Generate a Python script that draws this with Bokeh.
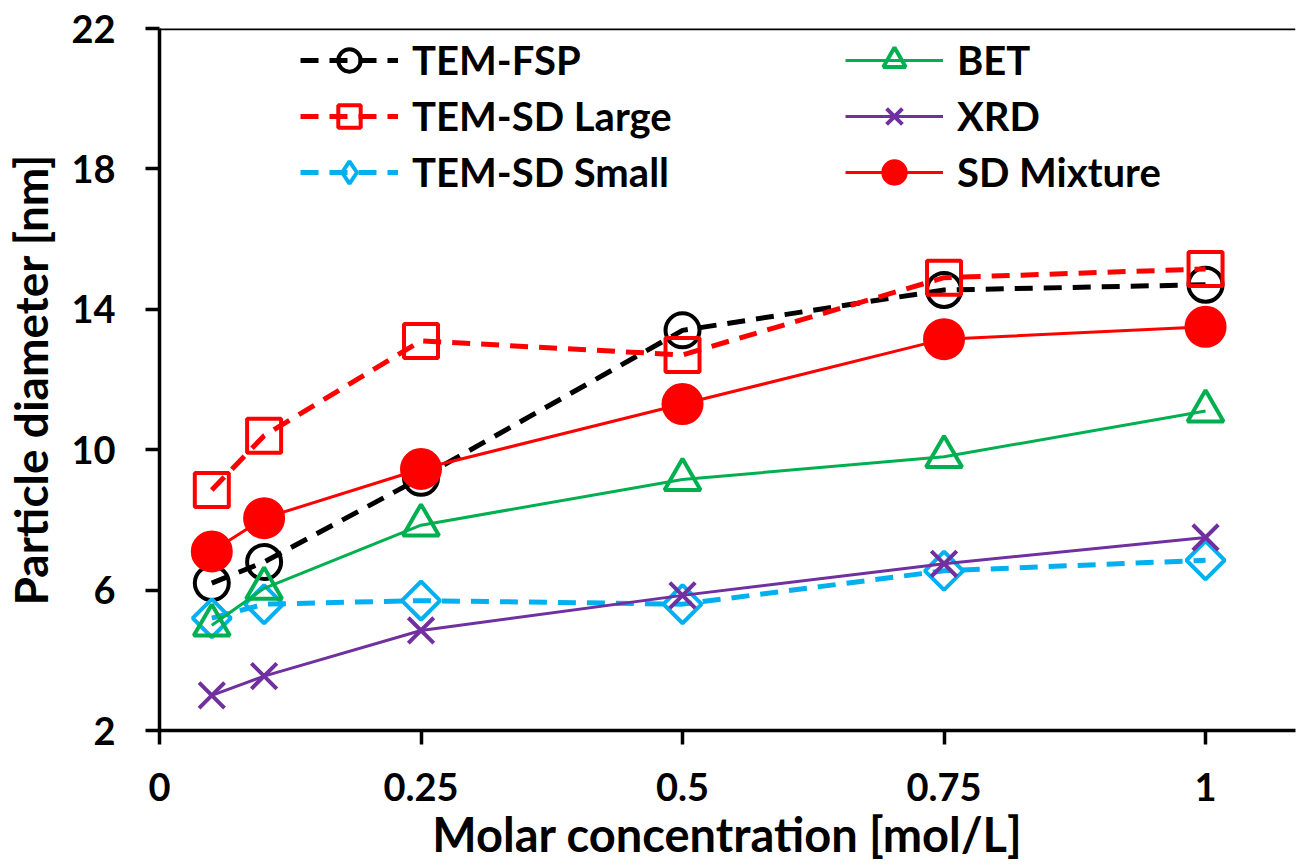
import math
from bokeh.plotting import figure
from bokeh.models import Range1d, FixedTicker, Span, Legend, LegendItem
from bokeh.embed import file_html
from bokeh.resources import INLINE

# ---- data ----
conc = [0.05, 0.1, 0.25, 0.5, 0.75, 1.0]
tem_fsp = [6.2, 6.8, 9.2, 13.4, 14.55, 14.7]
tem_sd_large = [8.85, 10.4, 13.1, 12.7, 14.9, 15.15]
tem_sd_small = [5.2, 5.6, 5.7, 5.6, 6.55, 6.85]
bet = [5.0, 6.05, 7.85, 9.15, 9.8, 11.1]
xrd = [3.0, 3.55, 4.85, 5.85, 6.75, 7.5]
sd_mixture = [7.1, 8.05, 9.45, 11.3, 13.15, 13.5]

x_ticks = [0, 0.25, 0.5, 0.75, 1]
x_tick_labels = ["0", "0.25", "0.5", "0.75", "1"]
y_ticks = [2, 6, 10, 14, 18, 22]

FONT = "Lato"

p = figure(width=1300, height=864, output_backend="svg", toolbar_location=None,
           x_range=Range1d(0, 1.086), y_range=Range1d(2, 22),
           min_border_left=157, min_border_right=5, min_border_top=28,
           min_border_bottom=134, background_fill_color="white",
           border_fill_color="white")
p.outline_line_color = None
p.xgrid.grid_line_color = None
p.ygrid.grid_line_color = None

for ax in (p.xaxis[0], p.yaxis[0]):
    ax.axis_line_width = 3.5
    ax.axis_line_color = "black"
    ax.major_tick_line_width = 3.5
    ax.major_tick_out = 14
    ax.major_tick_in = 0
    ax.minor_tick_line_color = None
    ax.major_label_text_font = FONT
    ax.major_label_text_font_style = "bold"
    ax.major_label_text_font_size = "38px"
    ax.major_label_text_color = "black"
    ax.axis_label_text_font = FONT
    ax.axis_label_text_font_style = "bold"
    ax.axis_label_text_color = "black"

p.xaxis.axis_label_text_font_size = "47px"
p.yaxis.axis_label_text_font_size = "46px"
p.xaxis.ticker = FixedTicker(ticks=x_ticks)
p.xaxis.major_label_overrides = {t: l for t, l in zip(x_ticks, x_tick_labels)}
p.yaxis.ticker = FixedTicker(ticks=y_ticks)
p.xaxis.axis_label = "Molar concentration [mol/L]"
p.yaxis.axis_label = "Particle diameter [nm]"
p.xaxis.major_label_standoff = 28
p.yaxis.major_label_standoff = 30
p.xaxis.axis_label_standoff = 2
p.yaxis.axis_label_standoff = 10

p.add_layout(Span(location=22, dimension="width", line_color="black", line_width=3.5))

DASH = "18 11"
items = []

def series(label, y, color, marker, dashed, lw, msize, fill, angle=0.0, legend_marker=None):
    ln = p.line(conc, y, line_color=color, line_width=lw,
                line_dash=DASH if dashed else "solid")
    sc = p.scatter(conc, y, marker=marker, size=msize, line_color=color,
                   line_width=4, fill_color=fill, angle=angle)
    rs = [ln, sc]
    if legend_marker is not None:
        # zero-size twin used only for the legend swatch
        lg = p.scatter(conc, y, marker=legend_marker, size=0, line_color=color,
                       line_width=4, fill_color=fill)
        rs = [ln, lg]
    items.append(LegendItem(label=label, renderers=rs))

series("TEM-FSP", tem_fsp, "black", "circle", True, 5, 34, None)
series("TEM-SD Large", tem_sd_large, "#FF0000", "square", True, 5, 34, None)
series("TEM-SD Small", tem_sd_small, "#00B0F0", "square", True, 5, 27, None,
       angle=math.pi / 4, legend_marker="diamond")
series("BET", bet, "#00B050", "triangle", False, 3, 36, None)
series("XRD", xrd, "#7030A0", "x", False, 3, 36, None)
series("SD Mixture", sd_mixture, "#FF0000", "circle", False, 3, 38, "#FF0000")

legend = Legend(items=items, ncols=2, orientation="vertical",
                location=(141, 530), border_line_color=None,
                background_fill_alpha=0, padding=0, spacing=0,
                glyph_width=98, glyph_height=56, label_height=56,
                label_standoff=14, label_width=433,
                label_text_font=FONT, label_text_font_style="bold",
                label_text_font_size="40px", label_text_color="black")
p.add_layout(legend)

open("out.html", "w").write(file_html(p, INLINE))
